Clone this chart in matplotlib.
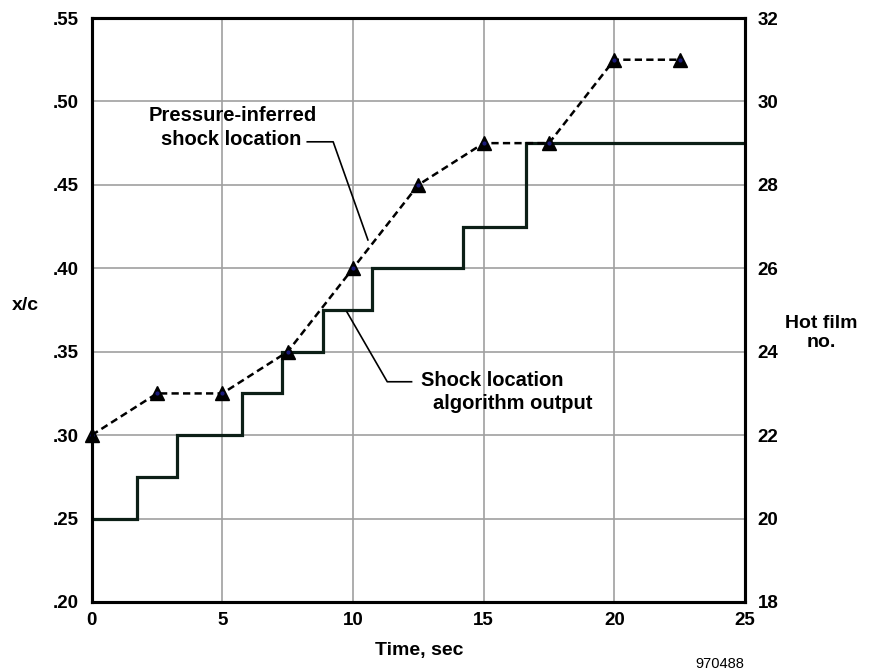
import matplotlib
matplotlib.use("Agg")
import matplotlib.pyplot as plt

plt.rcParams['font.family'] = ['Liberation Sans', 'DejaVu Sans']
plt.rcParams['font.weight'] = 'bold'

# Data
time_pressure = [0, 2.5, 5, 7.5, 10, 12.5, 15, 17.5, 20, 22.5]
xc_pressure = [0.30, 0.325, 0.325, 0.35, 0.40, 0.45, 0.475, 0.475, 0.525, 0.525]

step_edges = [0, 1.72, 3.25, 5.76, 7.29, 8.86, 10.72, 14.2, 16.61, 25]
step_values = [0.25, 0.275, 0.30, 0.325, 0.35, 0.375, 0.40, 0.425, 0.475]

x_ticks = [0, 5, 10, 15, 20, 25]
y_ticks = [0.20, 0.25, 0.30, 0.35, 0.40, 0.45, 0.50, 0.55]
y_ticklabels = ['.20', '.25', '.30', '.35', '.40', '.45', '.50', '.55']
right_ticklabels = ['18', '20', '22', '24', '26', '28', '30', '32']

W, H = 878, 672
fig = plt.figure(figsize=(W / 100, H / 100), dpi=100)
ax = fig.add_axes([91.7 / W, 1 - 602 / H, (745 - 91.7) / W, (602 - 18) / H])

TICK_FS = 13.5
ax.set_xlim(0, 25)
ax.set_ylim(0.20, 0.55)
ax.set_xticks(x_ticks)
ax.set_yticks(y_ticks)
ax.set_yticklabels(y_ticklabels)
ax.grid(True, color='#a0a0a0', linewidth=1.2)
ax.set_axisbelow(True)
ax.tick_params(axis='y', length=0, labelsize=TICK_FS, pad=9)
ax.tick_params(axis='x', length=0, labelsize=TICK_FS, pad=7)
for lbl in ax.get_xticklabels() + ax.get_yticklabels():
    lbl.set_fontweight('bold')
for s in ax.spines.values():
    s.set_linewidth(2.2)
    s.set_color('black')

# Step line (algorithm output)
ax.stairs(step_values, step_edges, color='#0c1f16', linewidth=2.3, baseline=None, zorder=3)

# Pressure-inferred dashed line with triangles
ax.plot(time_pressure, xc_pressure, linestyle=(0, (2.9, 1.7)), color='black', linewidth=1.8,
        marker='^', markersize=10, markerfacecolor='black', markeredgecolor='black',
        clip_on=False, zorder=4)
ax.plot(time_pressure, xc_pressure, linestyle='none', marker='o', markersize=2,
        color='#1a1a7a', clip_on=False, zorder=5)

# Right axis
ax2 = ax.twinx()
ax2.set_ylim(0.20, 0.55)
ax2.set_yticks(y_ticks)
ax2.set_yticklabels(right_ticklabels)
ax2.tick_params(length=0, labelsize=TICK_FS, pad=9)
for lbl in ax2.get_yticklabels():
    lbl.set_fontweight('bold')
for s in ax2.spines.values():
    s.set_linewidth(2.2)

# Axis labels
LAB_FS = 14
fig.text(25 / W, 1 - 306 / H, 'x/c', fontsize=LAB_FS, fontweight='bold', ha='center', va='center')
fig.text(821 / W, 1 - 333 / H, 'Hot film\nno.', fontsize=LAB_FS, fontweight='bold',
         ha='center', va='center', linespacing=1.15)
fig.text(419 / W, 1 - 655 / H, 'Time, sec', fontsize=LAB_FS, fontweight='bold',
         ha='center', va='baseline')
fig.text(720 / W, 1 - 664 / H, '970488', fontsize=10.5, fontweight='normal',
         ha='center', va='center')

# Annotations
ANN_FS = 14.5
def fig2data(px, py):
    inv = ax.transData.inverted()
    return inv.transform(fig.transFigure.transform((px / W, 1 - py / H)))

ax.text(*fig2data(233, 121), 'Pressure-inferred', fontsize=ANN_FS, fontweight='bold',
        ha='center', va='baseline', zorder=6)
ax.text(*fig2data(231, 145), 'shock location', fontsize=ANN_FS, fontweight='bold',
        ha='center', va='baseline', zorder=6)
ax.plot([8.25, 9.24, 10.57], [0.4758, 0.4758, 0.417], color='black', linewidth=1.2, zorder=6)

ax.text(*fig2data(492, 386), 'Shock location', fontsize=ANN_FS, fontweight='bold',
        ha='center', va='baseline', zorder=6)
ax.text(*fig2data(513, 409), 'algorithm output', fontsize=ANN_FS, fontweight='bold',
        ha='center', va='baseline', zorder=6)
ax.plot([9.76, 11.31, 12.24], [0.374, 0.332, 0.332], color='black', linewidth=1.2, zorder=6)

fig.savefig('out.png', dpi=100)
